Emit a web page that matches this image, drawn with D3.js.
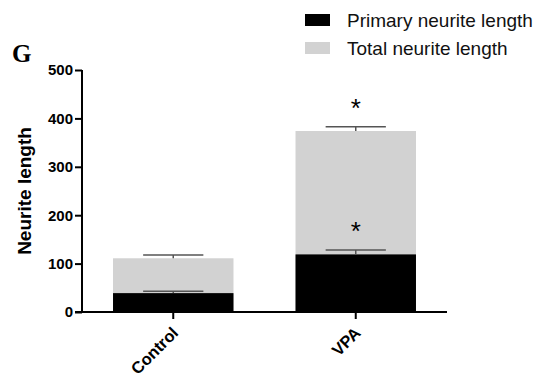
<!DOCTYPE html>
<html lang="en">
<head>
    <meta charset="UTF-8">
    <title>Neurite length</title>
    <script src="https://cdnjs.cloudflare.com/ajax/libs/d3/7.8.5/d3.min.js"></script>
    <style>
        body { margin: 0; background: #fff; }
        text { font-family: "Liberation Sans", Arial, sans-serif; }
        .axis path, .axis line { stroke: #000; stroke-width: 2px; }
        .axis text { font-size: 15px; font-weight: bold; fill: #000; }
        .axis.xax text { font-size: 16.5px; }
    </style>
</head>
<body>
    <div id="chart"></div>

    <script>
        // data
        const groups = ["Control", "VPA"];
        const totalLength = [111, 374];
        const totalErr = [7, 9];
        const primaryLength = [39, 119];
        const primaryErr = [4, 9];
        const significant = [false, true];
        const yTicks = [0, 100, 200, 300, 400, 500];

        const width = 537, height = 383;
        const margin = { left: 82, right: 90, top: 70, bottom: 71 };

        const svg = d3.select("#chart").append("svg")
            .attr("width", width)
            .attr("height", height);

        const x = d3.scaleBand()
            .domain(groups)
            .range([margin.left, width - margin.right])
            .paddingInner(0.34)
            .paddingOuter(0.17);

        const y = d3.scaleLinear()
            .domain([0, 500])
            .range([height - margin.bottom, margin.top]);

        // total bars (gray, behind)
        svg.selectAll(".total")
            .data(groups)
            .join("rect")
            .attr("class", "total")
            .attr("x", d => x(d))
            .attr("width", x.bandwidth())
            .attr("y", (d, i) => y(totalLength[i]))
            .attr("height", (d, i) => y(0) - y(totalLength[i]))
            .attr("fill", "#d2d2d2");

        // primary bars (black)
        svg.selectAll(".primary")
            .data(groups)
            .join("rect")
            .attr("class", "primary")
            .attr("x", d => x(d))
            .attr("width", x.bandwidth())
            .attr("y", (d, i) => y(primaryLength[i]))
            .attr("height", (d, i) => y(0) - y(primaryLength[i]))
            .attr("fill", "#000");

        // error bars (upper half only)
        function errBars(vals, errs, color) {
            groups.forEach((g, i) => {
                const cx = x(g) + x.bandwidth() / 2;
                const hw = x.bandwidth() / 4;
                svg.append("line")
                    .attr("x1", cx).attr("x2", cx)
                    .attr("y1", y(vals[i])).attr("y2", y(vals[i] + errs[i]))
                    .attr("stroke", color).attr("stroke-width", 1.5);
                svg.append("line")
                    .attr("x1", cx - hw).attr("x2", cx + hw)
                    .attr("y1", y(vals[i] + errs[i])).attr("y2", y(vals[i] + errs[i]))
                    .attr("stroke", color).attr("stroke-width", 1.5);
            });
        }
        errBars(totalLength, totalErr, "#555");
        errBars(primaryLength, primaryErr, "#555");

        // significance stars
        groups.forEach((g, i) => {
            if (!significant[i]) return;
            const cx = x(g) + x.bandwidth() / 2;
            [[totalLength, totalErr], [primaryLength, primaryErr]].forEach(([v, e]) => {
                svg.append("text")
                    .attr("x", cx)
                    .attr("y", y(v[i] + e[i]) - 10)
                    .attr("text-anchor", "middle")
                    .attr("font-size", 26)
                    .attr("fill", "#000")
                    .text("*");
            });
        });

        // y axis
        svg.append("g")
            .attr("class", "axis")
            .attr("transform", `translate(${margin.left},0)`)
            .call(d3.axisLeft(y).tickValues(yTicks).tickSize(7).tickSizeOuter(0).tickPadding(2))
            .call(g => g.select(".domain").attr("d", `M0,${y(500)}V${y(0)}`));

        // x axis
        const xAxis = svg.append("g")
            .attr("class", "axis xax")
            .attr("transform", `translate(0,${y(0)})`)
            .call(d3.axisBottom(x).tickSize(7).tickSizeOuter(0));
        xAxis.select(".domain").attr("d", `M${margin.left - 7},0H${width - margin.right}`);
        xAxis.selectAll("text")
            .attr("text-anchor", "end")
            .attr("dy", null)
            .attr("y", 0)
            .attr("transform", "translate(6,22) rotate(-45)");

        // y label
        svg.append("text")
            .attr("transform", `translate(31,${y(250)}) rotate(-90)`)
            .attr("text-anchor", "middle")
            .attr("font-size", 19)
            .attr("font-weight", "bold")
            .text("Neurite length");

        // panel letter
        svg.append("text")
            .attr("x", 12)
            .attr("y", 62)
            .style("font-family", "'Liberation Serif', 'Times New Roman', serif")
            .attr("font-size", 25)
            .attr("font-weight", "bold")
            .text("G");

        // legend
        const legendItems = ["Primary neurite length", "Total neurite length"];
        const legendColors = ["#000", "#d2d2d2"];
        const legend = svg.append("g").attr("transform", "translate(305,14)");
        legendItems.forEach((t, i) => {
            legend.append("rect")
                .attr("x", 0).attr("y", i * 28)
                .attr("width", 25).attr("height", 12)
                .attr("fill", legendColors[i]);
            legend.append("text")
                .attr("x", 42).attr("y", i * 28 + 13)
                .attr("font-size", 19)
                .attr("fill", "#111")
                .text(t);
        });
    </script>
</body>
</html>
